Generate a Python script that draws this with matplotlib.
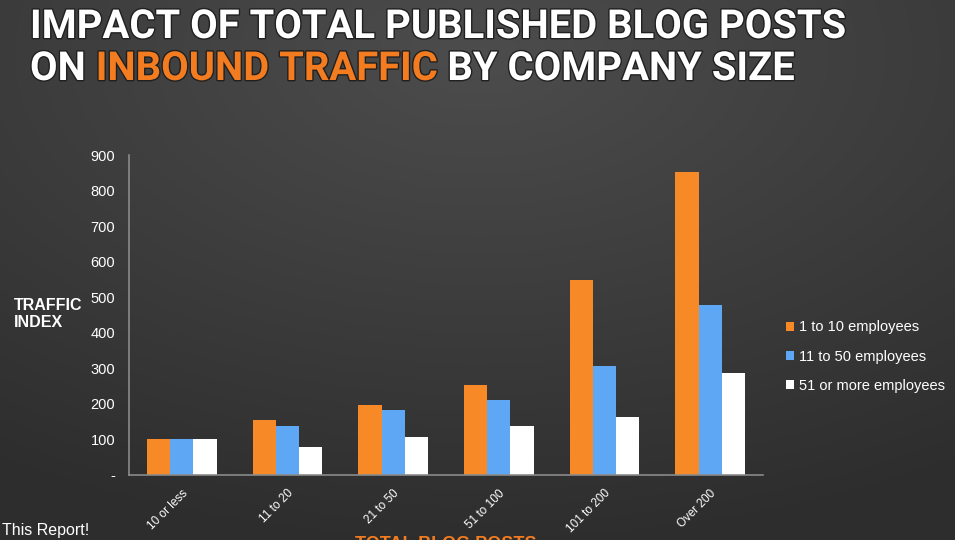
import numpy as np
import matplotlib
matplotlib.use("Agg")
import matplotlib.pyplot as plt
import matplotlib.patheffects as pe
from matplotlib.ticker import FuncFormatter

# Data
categories = ["10 or less", "11 to 20", "21 to 50", "51 to 100", "101 to 200", "Over 200"]
small_co = [100, 155, 197, 253, 548, 852]     # 1 to 10 employees
mid_co = [100, 138, 183, 211, 307, 478]       # 11 to 50 employees
large_co = [100, 79, 107, 138, 163, 287]      # 51 or more employees
series_labels = ["1 to 10 employees", "11 to 50 employees", "51 or more employees"]
yticks = [0, 100, 200, 300, 400, 500, 600, 700, 800, 900]

ORANGE = "#f78a27"
BLUE = "#5ea7f5"
WHITE = "#ffffff"
TITLE_ORANGE = "#f47c20"

plt.rcParams["font.family"] = ["Liberation Sans", "DejaVu Sans"]

fig = plt.figure(figsize=(9.55, 5.4), dpi=100)

# dark radial gradient background
bg = fig.add_axes([0, 0, 1, 1], zorder=-10)
yy, xx = np.mgrid[0:1:270j, 0:1:480j]
r = np.sqrt(((xx - 0.5) / 0.9) ** 2 + ((yy - 0.1) / 0.9) ** 2)
shade = 0.30 - 0.12 * np.clip(r, 0, 1)
bg.imshow(np.dstack([shade, shade, shade]), aspect="auto", extent=[0, 1, 0, 1], origin="upper")
bg.set_axis_off()

ax = fig.add_axes([129 / 955, 65 / 540, (763 - 129) / 955, (475 - 155) / 540])
ax.set_facecolor("none")

x = np.arange(len(categories))
w = 0.22
ax.bar(x - w, small_co, w, color=ORANGE, label=series_labels[0])
ax.bar(x, mid_co, w, color=BLUE, label=series_labels[1])
ax.bar(x + w, large_co, w, color=WHITE, label=series_labels[2])

ax.set_xlim(-0.5, len(categories) - 0.5)
ax.set_ylim(0, 900)
ax.set_yticks(yticks)
ax.yaxis.set_major_formatter(FuncFormatter(lambda v, p: "-" if v == 0 else f"{v:.0f}"))
ax.set_xticks(x)
ax.set_xticklabels(categories, rotation=45, ha="right", rotation_mode="anchor")
ax.tick_params(axis="y", length=0, pad=10, colors="white", labelsize=10.5)
ax.tick_params(axis="x", length=0, pad=9, colors="white", labelsize=8.5)
for s in ["top", "right"]:
    ax.spines[s].set_visible(False)
for s in ["left", "bottom"]:
    ax.spines[s].set_color("#8a8a8a")
    ax.spines[s].set_linewidth(1.2)

leg = ax.legend(loc="center left", bbox_to_anchor=(1.015, 0.37), frameon=False,
                fontsize=10.5, labelcolor="white", handlelength=0.6, handleheight=0.6,
                handletextpad=0.3, labelspacing=1.05)

fig.text(14 / 955, 1 - 314 / 540, "TRAFFIC\nINDEX", color="white", fontsize=11.5,
         fontweight="bold", va="center", ha="left", linespacing=1.2)
fig.text(2 / 955, 1 - 530 / 540, "This Report!", color="white", fontsize=11.5,
         va="center", ha="left")
# x axis title, cut off by the bottom edge as in the reference
fig.text(446 / 955, 1 - 536 / 540, "TOTAL BLOG POSTS", color=TITLE_ORANGE, fontsize=13,
         fontweight="bold", ha="center", va="top")

# title, second line has an orange part
title_kw = dict(fontsize=30, fontweight="bold", va="baseline", ha="left",
                family=["Roboto", "Liberation Sans", "DejaVu Sans"],
                path_effects=[pe.withStroke(linewidth=2, foreground="#202020")])

fig.canvas.draw()
rend = fig.canvas.get_renderer()


def width_of(s):
    t = fig.text(0, 0, s, **title_kw)
    wpx = t.get_window_extent(rend).width
    t.remove()
    return wpx


line1 = "IMPACT OF TOTAL PUBLISHED BLOG POSTS"
# fit the first title line to the width it takes in the reference
title_kw["fontsize"] = 30 * 815 / width_of(line1)
fig.text(30 / 955, 1 - 38 / 540, line1, color="white", **title_kw)

space = width_of("O O") - width_of("OO")
xpos = 30
for seg, col in [("ON", "white"), ("INBOUND TRAFFIC", TITLE_ORANGE), ("BY COMPANY SIZE", "white")]:
    fig.text(xpos / 955, 1 - 80 / 540, seg, color=col, **title_kw)
    xpos += width_of(seg) + space

fig.savefig("out.png", dpi=100)
